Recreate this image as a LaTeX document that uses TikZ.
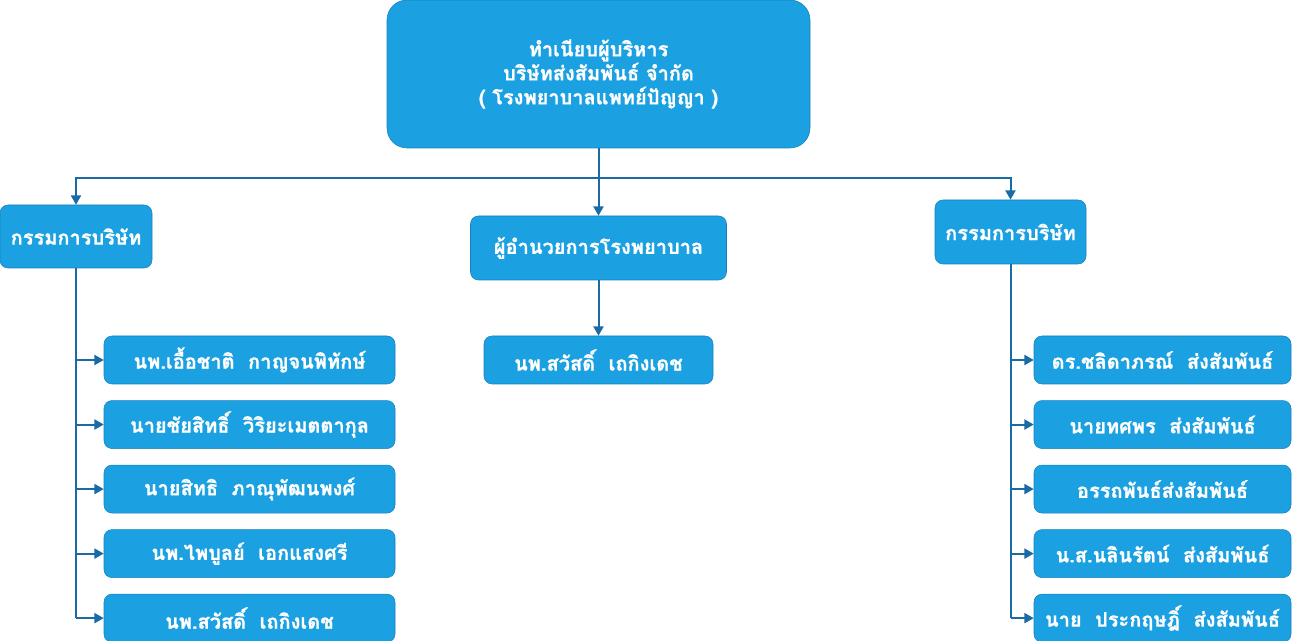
\documentclass[tikz,border=0pt]{standalone}
\usepackage{fontspec}
\newfontfamily\thaifont[Script=Thai, BoldFeatures={FakeBold=0.8}]{Loma}
\usetikzlibrary{arrows.meta,positioning}
\definecolor{boxblue}{HTML}{1BA1E2}
\definecolor{boxedge}{HTML}{1681BA}
\definecolor{linkblue}{HTML}{1A6AA6}

\begin{document}
\begin{tikzpicture}[
    x=0.75pt, y=-0.75pt,
    node distance=12pt,
    block/.style={rectangle, draw=boxedge, fill=boxblue, rounded corners=6pt, text=white, align=center, inner sep=2pt, font=\thaifont\bfseries\fontsize{15}{18}\selectfont},
    member/.style={block, minimum width=218.25pt, minimum height=36pt},
    rmember/.style={member, minimum width=192.75pt},
    link/.style={line width=1.5pt, draw=linkblue},
    arrow/.style={link, -{Triangle[length=7pt, width=7.5pt]}}
]
    \useasboundingbox (0,0) rectangle (1293,641);

    \node[block, rounded corners=15pt, minimum width=317.25pt, minimum height=111pt] (top) at (598.5,74)
        {ทำเนียบผู้บริหาร\\บริษัทส่งสัมพันธ์ จำกัด\\( โรงพยาบาลแพทย์ปัญญา )};
    \node[block, minimum width=114pt, minimum height=47.25pt] (lhead) at (76,236.5) {กรรมการบริษัท};
    \node[block, minimum width=192pt, minimum height=48pt] (mhead) at (598.5,248) {ผู้อำนวยการโรงพยาบาล};
    \node[block, minimum width=113.25pt, minimum height=48pt] (rhead) at (1010.5,232) {กรรมการบริษัท};
    \node[block, minimum width=171.75pt, minimum height=36pt] (mdir) at (598.5,360) {นพ.สวัสดิ์~ เถกิงเดช};

    % left column
    \node[member] (l1) at (249.5,360) {นพ.เอื้อชาติ~ กาญจนพิทักษ์};
    \node[member, below=of l1] (l2) {นายชัยสิทธิ์~ วิริยะเมตตากุล};
    \node[member, below=of l2] (l3) {นายสิทธิ~ ภาณุพัฒนพงศ์};
    \node[member, below=of l3] (l4) {นพ.ไพบูลย์~ เอกแสงศรี};
    \node[member, below=of l4] (l5) {นพ.สวัสดิ์~ เถกิงเดช};

    % right column
    \node[rmember] (r1) at (1162.5,360) {ดร.ชลิดาภรณ์~ ส่งสัมพันธ์};
    \node[rmember, below=of r1] (r2) {นายทศพร~ ส่งสัมพันธ์};
    \node[rmember, below=of r2] (r3) {อรรถพันธ์ส่งสัมพันธ์};
    \node[rmember, below=of r3] (r4) {น.ส.นลินรัตน์~ ส่งสัมพันธ์};
    \node[rmember, below=of r4] (r5) {นาย~ ประกฤษฎิ์~ ส่งสัมพันธ์};

    \coordinate (bus) at (598.5,178);
    \draw[link] (top) -- (bus);
    \draw[arrow] (bus) -| (lhead);
    \draw[arrow] (bus) -| (rhead);
    \draw[arrow] (bus) -- (mhead);
    \draw[arrow] (mhead) -- (mdir);

    \draw[link] (lhead.south) -- (lhead.south |- l5.west);
    \draw[link] (rhead.south) -- (rhead.south |- r5.west);
    \foreach \i in {1,...,5} {
        \draw[arrow] (lhead.south |- l\i.west) -- (l\i.west);
        \draw[arrow] (rhead.south |- r\i.west) -- (r\i.west);
    }
\end{tikzpicture}
\end{document}
